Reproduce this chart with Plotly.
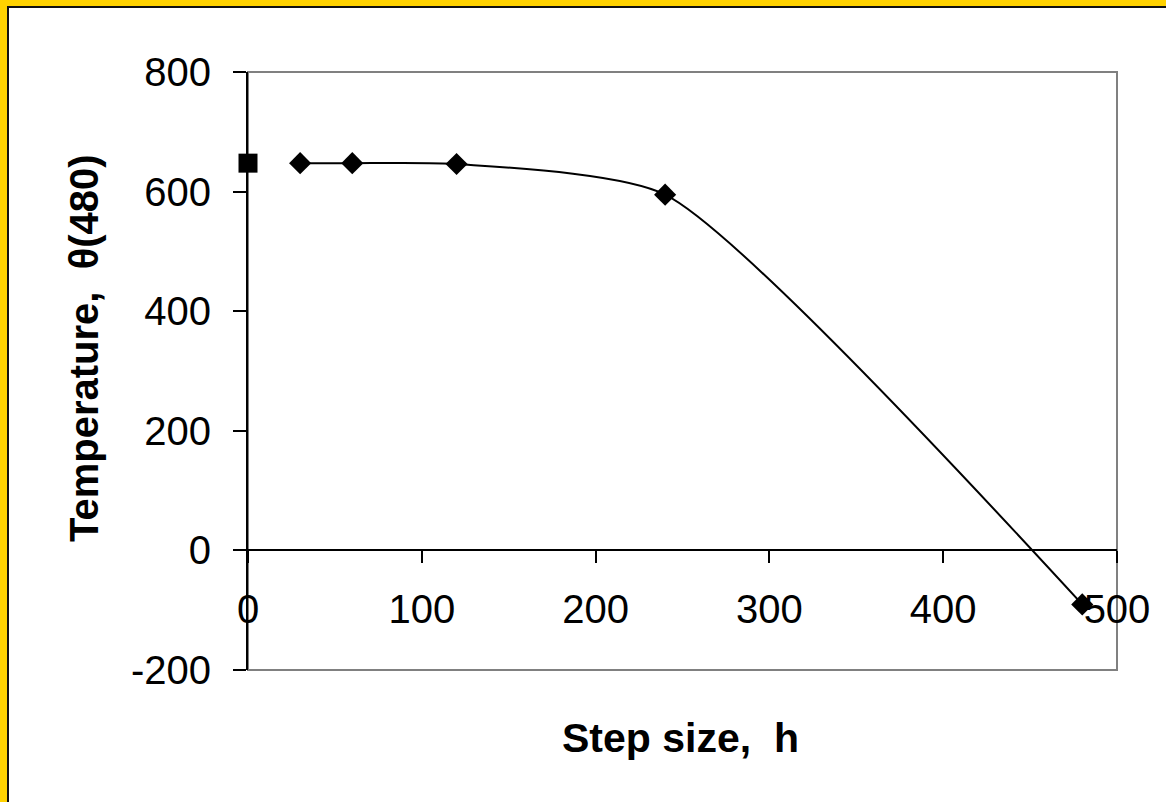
import plotly.graph_objects as go

# ---- data ----
step_sizes = [30, 60, 120, 240, 480]
theta_480 = [647.57, 647.54, 646.16, 594.91, -90.278]
exact_h = [0]
exact_theta = [647.57]
x_ticks = [0, 100, 200, 300, 400, 500]
x_tick_labels = ["0", "100", "200", "300", "400", "500"]
y_ticks = [-200, 0, 200, 400, 600, 800]
y_tick_labels = ["-200", "0", "200", "400", "600", "800"]

W, H = 1166, 802
L, R, T, B = 248, 1117, 72, 670  # plot area in pixels


def px(x):
    return (x - L) / (R - L)


def py(y):
    return (B - y) / (B - T)


FONT = "Liberation Sans, Arial, sans-serif"

fig = go.Figure()
fig.add_trace(go.Scatter(
    x=step_sizes, y=theta_480, mode="lines+markers",
    line=dict(color="black", width=2, shape="spline", smoothing=0.6),
    marker=dict(symbol="diamond", size=17, color="black"),
    cliponaxis=False, showlegend=False))
fig.add_trace(go.Scatter(
    x=exact_h, y=exact_theta, mode="markers",
    marker=dict(symbol="square", size=19, color="black"),
    cliponaxis=False, showlegend=False))

shapes = [
    # plot area border (grey)
    dict(type="rect", xref="paper", yref="paper", x0=0, x1=1, y0=0, y1=1,
         line=dict(color="#808080", width=2), layer="below"),
    # slide frame: yellow + black stripes on left and top
    dict(type="rect", xref="paper", yref="paper", x0=px(0), x1=px(7), y0=py(0), y1=py(H),
         fillcolor="#FFD200", line=dict(width=0)),
    dict(type="rect", xref="paper", yref="paper", x0=px(0), x1=px(W), y0=py(0), y1=py(6),
         fillcolor="#FFD200", line=dict(width=0)),
    dict(type="rect", xref="paper", yref="paper", x0=px(7), x1=px(9), y0=py(6), y1=py(H),
         fillcolor="#111111", line=dict(width=0)),
    dict(type="rect", xref="paper", yref="paper", x0=px(7), x1=px(W), y0=py(6), y1=py(8),
         fillcolor="#111111", line=dict(width=0)),
]

annotations = [
    dict(text="Step size,\u00a0 h", x=px(680), y=py(738), xref="paper", yref="paper",
         showarrow=False, xanchor="center", yanchor="middle",
         font=dict(family=FONT, size=41, color="black", weight="bold")),
    dict(text="Temperature,\u00a0 \u03b8(480)", x=px(84), y=py(348), xref="paper", yref="paper",
         showarrow=False, xanchor="center", yanchor="middle", textangle=-90,
         font=dict(family=FONT, size=40, color="black", weight="bold")),
]

fig.update_layout(
    width=W, height=H,
    margin=dict(l=L, r=W - R, t=T, b=H - B, autoexpand=False),
    paper_bgcolor="white", plot_bgcolor="white",
    font=dict(family=FONT, color="black"),
    shapes=shapes, annotations=annotations,
    xaxis=dict(range=[0, 500], tickvals=x_ticks, ticktext=x_tick_labels,
               ticks="outside", ticklen=12,
               tickwidth=2, tickcolor="black", showline=True, linecolor="black",
               linewidth=2, showgrid=False, zeroline=False,
               anchor="free", position=0.2, ticklabelstandoff=12,
               tickfont=dict(size=40, family=FONT, color="black")),
    yaxis=dict(range=[-200, 800], tickvals=y_ticks, ticktext=y_tick_labels,
               ticks="outside", ticklen=13,
               tickwidth=2, tickcolor="black", showline=True, linecolor="black",
               linewidth=2, showgrid=False, zeroline=False, ticklabelstandoff=14,
               tickfont=dict(size=40, family=FONT, color="black")),
)

fig.write_html("out.html")
